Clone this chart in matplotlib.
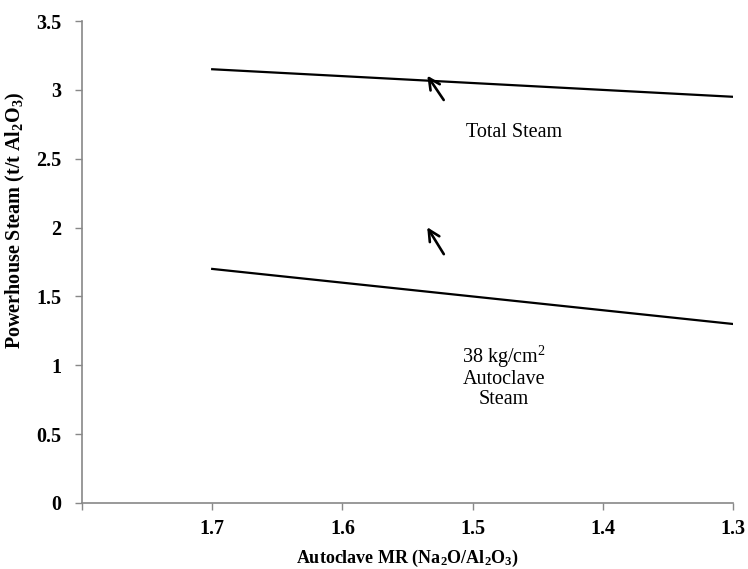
import matplotlib
matplotlib.use('Agg')
import matplotlib.pyplot as plt

plt.rcParams['font.family'] = ['Liberation Serif', 'DejaVu Serif']
plt.rcParams['mathtext.fontset'] = 'custom'
plt.rcParams['mathtext.rm'] = 'Liberation Serif:bold'
plt.rcParams['mathtext.default'] = 'rm'

# data
mr = [1.7, 1.3]
total_steam = [3.15, 2.95]
autoclave_steam = [1.70, 1.30]
x_ticks = [1.7, 1.6, 1.5, 1.4, 1.3]
y_ticks = [0, 0.5, 1, 1.5, 2, 2.5, 3, 3.5]
y_labels = ['0', '0.5', '1', '1.5', '2', '2.5', '3', '3.5']

fig = plt.figure(figsize=(7.48, 5.69), dpi=100)
ax = fig.add_axes([0.1096, 0.116, 0.8704, 0.847])

ax.plot(mr, total_steam, color='black', lw=1.6)
ax.plot(mr, autoclave_steam, color='black', lw=1.6)

# arrows
arrow_kw = dict(arrowstyle='->', color='black', lw=1.9, mutation_scale=20)
ax.annotate('', xy=(1.536, 3.12), xytext=(1.521, 2.91), arrowprops=arrow_kw)
ax.annotate('', xy=(1.536, 2.02), xytext=(1.521, 1.79), arrowprops=arrow_kw)

ax.text(1.468, 2.69, 'Total Steam', ha='center', va='center', fontsize=14.5)
ax.text(1.476, 0.92, '38 kg/cm$^{\\mathregular{2}}$\nAutoclave\nSteam',
        ha='center', va='center', fontsize=14.5, linespacing=1.05)

ax.set_xlim(1.8, 1.3)
ax.set_ylim(0, 3.5)
ax.set_xticks([1.8] + x_ticks)
ax.set_xticklabels([''] + [str(v) for v in x_ticks])
ax.set_yticks(y_ticks)
ax.set_yticklabels(y_labels)

for lab in ax.get_xticklabels() + ax.get_yticklabels():
    lab.set_fontweight('bold')
    lab.set_fontsize(14.5)

ax.tick_params(axis='both', direction='out', length=5, color='#888888', width=1)
ax.tick_params(axis='x', pad=6.5)
ax.tick_params(axis='y', pad=10)

for s in ['top', 'right']:
    ax.spines[s].set_visible(False)
for s in ['left', 'bottom']:
    ax.spines[s].set_color('#888888')
    ax.spines[s].set_linewidth(1.2)

ax.set_xlabel('Autoclave MR (Na$_2$O/Al$_2$O$_3$)', fontsize=13, fontweight='bold', va='center')
ax.set_ylabel('Powerhouse Steam (t/t Al$_2$O$_3$)', fontsize=14.5, fontweight='bold', va='center')
ax.xaxis.set_label_coords(0.5, -0.114)
ax.yaxis.set_label_coords(-0.102, 0.587)

fig.savefig('out.png', dpi=100)
